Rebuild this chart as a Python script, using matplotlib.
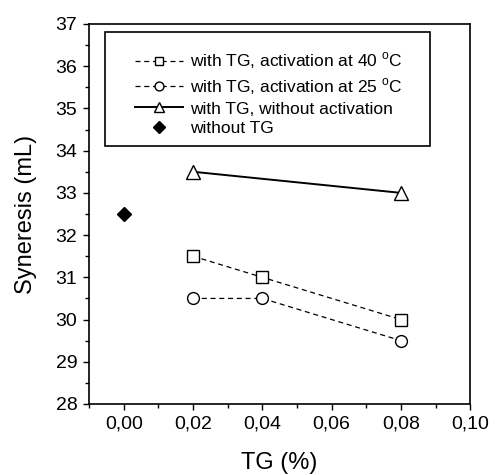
import matplotlib
matplotlib.use("Agg")
import matplotlib.pyplot as plt
from matplotlib.patches import Rectangle
from matplotlib.ticker import MultipleLocator, FuncFormatter

plt.rcParams['font.family'] = ['Liberation Sans', 'DejaVu Sans']
plt.rcParams['mathtext.fontset'] = 'custom'
plt.rcParams['mathtext.rm'] = 'Liberation Sans'

# ---------------------- Data ---------------------- #
tg_40 = [0.02, 0.04, 0.08]
syn_40 = [31.5, 31.0, 30.0]
tg_25 = [0.02, 0.04, 0.08]
syn_25 = [30.5, 30.5, 29.5]
tg_noact = [0.02, 0.08]
syn_noact = [33.5, 33.0]
tg_none = [0.0]
syn_none = [32.5]

labels = [r'with TG, activation at 40 $^\mathregular{o}$C',
          r'with TG, activation at 25 $^\mathregular{o}$C',
          'with TG, without activation',
          'without TG']

# ---------------------- Plot ---------------------- #
fig = plt.figure(figsize=(4.95, 4.75), dpi=100)
ax = fig.add_axes([0.180, 0.1495, 0.770, 0.800])

ax.plot(tg_40, syn_40, color='black', linestyle=(0, (4, 3)), linewidth=0.9,
        marker='s', markersize=8, markerfacecolor='white', markeredgecolor='black',
        markeredgewidth=1, label=labels[0])
ax.plot(tg_25, syn_25, color='black', linestyle=(0, (4, 3)), linewidth=0.9,
        marker='o', markersize=8.5, markerfacecolor='white', markeredgecolor='black',
        markeredgewidth=1, label=labels[1])
ax.plot(tg_noact, syn_noact, color='black', linestyle='-', linewidth=1.4,
        marker='^', markersize=10, markerfacecolor='white', markeredgecolor='black',
        markeredgewidth=1, label=labels[2])
ax.plot(tg_none, syn_none, color='black', linestyle='none',
        marker='D', markersize=7.5, markerfacecolor='black', label=labels[3])

ax.set_xlim(-0.01, 0.10)
ax.set_ylim(28, 37)
ax.xaxis.set_major_locator(MultipleLocator(0.02))
ax.xaxis.set_minor_locator(MultipleLocator(0.01))
ax.yaxis.set_major_locator(MultipleLocator(1))
ax.yaxis.set_minor_locator(MultipleLocator(0.5))
ax.xaxis.set_major_formatter(FuncFormatter(lambda v, p: f"{v:.2f}".replace('.', ',')))

ax.tick_params(which='both', direction='out', top=False, right=False, labelsize=14)
ax.tick_params(which='major', length=4.5, width=1, pad=4)
ax.tick_params(which='minor', length=3, width=1)
for s in ax.spines.values():
    s.set_linewidth(1.2)

ax.set_xlabel('TG (%)', fontsize=17, labelpad=14)
ax.set_ylabel('Syneresis (mL)', fontsize=17, labelpad=13)

# legend text without frame, box drawn separately (Origin-style padding)
leg = ax.legend(loc='upper left', bbox_to_anchor=(0.121, 0.93), fontsize=12.5,
                frameon=False, handlelength=2.75, handletextpad=0.4,
                labelspacing=0.27, markerscale=0.75, borderpad=0, borderaxespad=0)
ax.add_patch(Rectangle((0.042, 0.679), 0.853, 0.300, transform=ax.transAxes,
                       fill=False, edgecolor='black', linewidth=1.2, zorder=5))

fig.savefig('out.png', dpi=100)
